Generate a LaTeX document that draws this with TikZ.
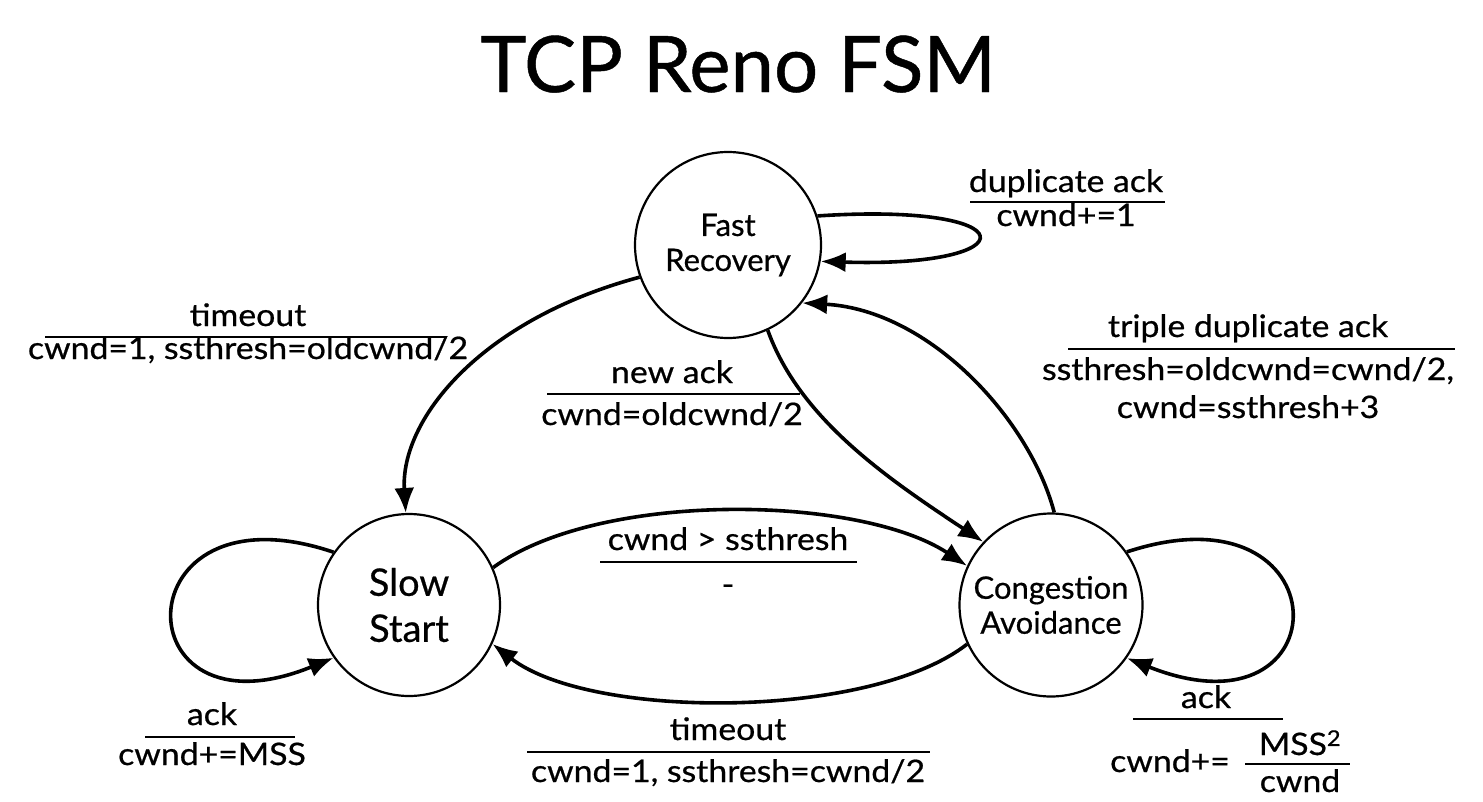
\documentclass[tikz,border=0pt]{standalone}
\usepackage{fontspec}
\setmainfont{Lato}[FakeBold=0.6]
\usetikzlibrary{arrows.meta}
\newcommand{\widetxt}[1]{\scalebox{1.09}[1]{#1}}
\begin{document}
\begin{tikzpicture}[x=1pt,y=-1pt,
  state/.style={draw,circle,line width=2.2pt,minimum size=#1,inner sep=0pt,align=center,font=\fontsize{31}{35}\selectfont},
  edge/.style={line width=3.6pt,-{Latex[length=25pt,width=20pt]}},
  lbl/.style={inner sep=0pt,font=\fontsize{31}{36}\selectfont,anchor=base},
  rul/.style={line width=2.8pt}]
\useasboundingbox (0,0) rectangle (1483,801);
\node[inner sep=0pt,font=\fontsize{78}{80}\selectfont,anchor=base] (title) at (738,92) {TCP Reno FSM};
\node[state=186pt] (fr) at (728,245) {Fast\\Recovery};
\node[state=182pt,font=\fontsize{38}{46}\selectfont] (ss) at (409,605) {Slow\\Start};
\node[state=183pt] (ca) at (1051,605) {Congestion\\Avoidance};
% self loops
\draw[edge] (fr.18) .. controls (1030,202) and (1030,268) .. (fr.-10);
\draw[edge] (ss.145) .. controls (120,480) and (120,745) .. (ss.215);
\draw[edge] (ca.35) .. controls (1345,480) and (1345,745) .. (ca.-35);
% transitions
\draw[edge] (fr.200) .. controls (480,320) and (400,420) .. (ss.92);
\draw[edge] (fr.-65) .. controls (800,420) and (890,480) .. (ca.137);
\draw[edge] (ca.88) .. controls (1030,420) and (930,310) .. (fr.-38);
\draw[edge] (ss.24) .. controls (600,490) and (860,495) .. (ca.155);
\draw[edge] (ca.205) .. controls (870,720) and (590,720) .. (ss.-25);
% labels
\node[lbl] (l1a) at (248,326) {\widetxt{timeout}};
\draw[rul] (45,337) -- (447,337);
\node[lbl] (l1b) at (248,359) {\widetxt{cwnd=1, ssthresh=oldcwnd/2}};
\node[lbl] (l2a) at (1066,192) {\widetxt{duplicate ack}};
\draw[rul] (970,202) -- (1165,202);
\node[lbl] (l2b) at (1066,226) {\widetxt{cwnd+=1}};
\node[lbl] (l3a) at (672,383) {\widetxt{new ack}};
\draw[rul] (547,394) -- (800,394);
\node[lbl] (l3b) at (672,425) {\widetxt{cwnd=oldcwnd/2}};
\node[lbl] (l4a) at (1248,337) {\widetxt{triple duplicate ack}};
\draw[rul] (1068,349) -- (1455,349);
\node[lbl] (l4b) at (1248,380) {\widetxt{ssthresh=oldcwnd=cwnd/2,}};
\node[lbl] (l4c) at (1248,418) {\widetxt{cwnd=ssthresh+3}};
\node[lbl] (l5a) at (728,550) {\widetxt{cwnd > ssthresh}};
\draw[rul] (600,562) -- (857,562);
\node[lbl] (l5b) at (728,595) {\widetxt{-}};
\node[lbl] (l6a) at (212,725) {\widetxt{ack}};
\draw[rul] (145,737) -- (295,737);
\node[lbl] (l6b) at (212,765) {\widetxt{cwnd+=MSS}};
\node[lbl] (l7a) at (728,740) {\widetxt{timeout}};
\draw[rul] (527,752) -- (930,752);
\node[lbl] (l7b) at (728,782) {\widetxt{cwnd=1, ssthresh=cwnd/2}};
\node[lbl] (l8a) at (1206,708) {\widetxt{ack}};
\draw[rul] (1133,719) -- (1283,719);
\node[lbl,anchor=base west] (l8b) at (1110,772) {\widetxt{cwnd+=}};
\node[lbl] (l8c) at (1300,755) {\widetxt{MSS\textsuperscript{2}}};
\draw[rul] (1245,764) -- (1350,764);
\node[lbl] (l8d) at (1300,792) {\widetxt{cwnd}};
\end{tikzpicture}
\end{document}
